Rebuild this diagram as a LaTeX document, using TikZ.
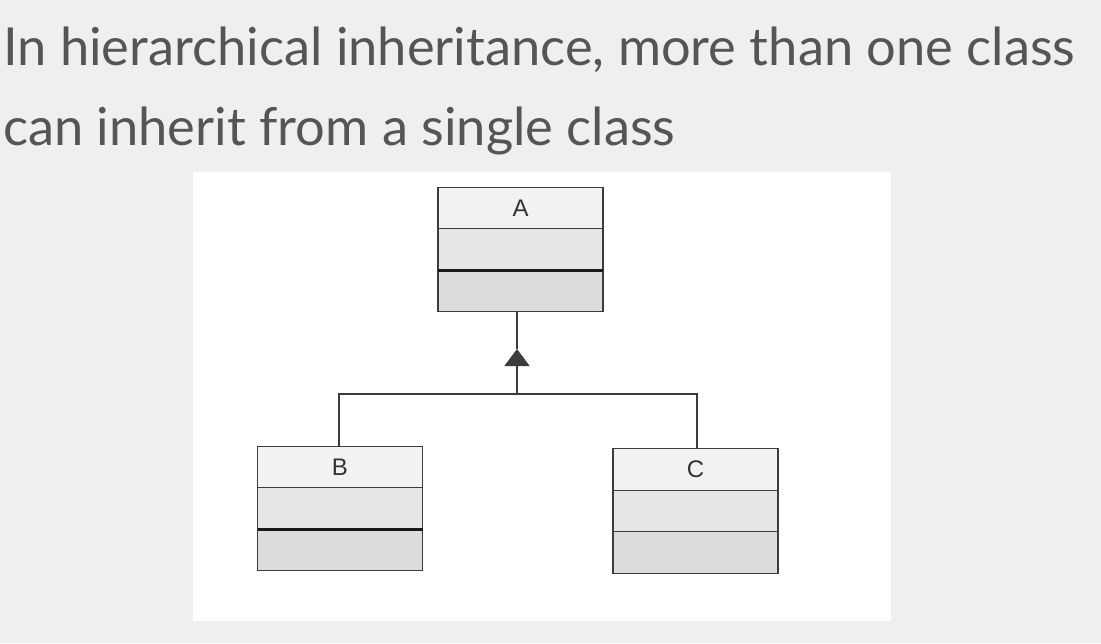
\documentclass[tikz,border=0pt]{standalone}
\usepackage{fontspec}
\setmainfont{Lato}
\newfontfamily\umlfont{Liberation Sans}
\usetikzlibrary{positioning, arrows.meta}

\definecolor{pagebg}{RGB}{239,239,239}
\definecolor{titlegray}{RGB}{85,85,85}
\definecolor{hdrfill}{RGB}{242,242,242}
\definecolor{midfill}{RGB}{230,230,230}
\definecolor{lowfill}{RGB}{220,220,222}
\definecolor{edgegray}{RGB}{60,60,60}

\begin{document}
\begin{tikzpicture}[
            x=1pt, y=-1pt,
            node distance=0pt,
            title/.style={anchor=base west, inner sep=0pt, text=titlegray, font=\fontsize{52.4}{60}\selectfont},
            hdr/.style={draw=edgegray, line width=1.4pt, outer sep=0pt, fill=hdrfill, minimum width=165pt, minimum height=41.5pt, inner sep=0pt, font=\umlfont\fontsize{24}{28}\selectfont, text=black!80},
            mid/.style={hdr, fill=midfill},
            low/.style={hdr, fill=lowfill},
            sep/.style={line width=3pt, black!90},
            link/.style={draw=edgegray, line width=1.4pt},
            gen/.style={link, -{Triangle[width=25pt, length=17pt]}}
        ]
        \useasboundingbox[fill=pagebg] (0,0) rectangle (1101,643);
        
        % Title
        \node[title] (line1) at (3,65) {In hierarchical inheritance, more than one class};
        \node[title] (line2) at (3,145) {can inherit from a single class};
        
        % Diagram panel
        \fill[white] (193,172) rectangle (891,621);
        
        % Class A
        \node[hdr] (A) at (520.5,208) {A};
        \node[mid, below=of A] (Amid) {};
        \node[low, below=of Amid] (Alow) {};
        \draw[sep] (Amid.south west) -- (Amid.south east);
        
        % Class B
        \node[hdr] (B) at (340,467) {B};
        \node[mid, below=of B] (Bmid) {};
        \node[low, below=of Bmid] (Blow) {};
        \draw[sep] (Bmid.south west) -- (Bmid.south east);
        
        % Class C
        \node[hdr] (C) at (695.5,469.5) {C};
        \node[mid, below=of C] (Cmid) {};
        \node[low, below=of Cmid] (Clow) {};
        
        % Inheritance
        \coordinate (tip) at (517,349);
        \coordinate (fork) at (517,394);
        \draw[link] (Alow.south -| tip) -- (tip);
        \draw[gen] (fork) -- (tip);
        \draw[link] (B.north -| 339,0) |- (fork) -| (C.north -| 697,0);
        
        \end{tikzpicture}
\end{document}
